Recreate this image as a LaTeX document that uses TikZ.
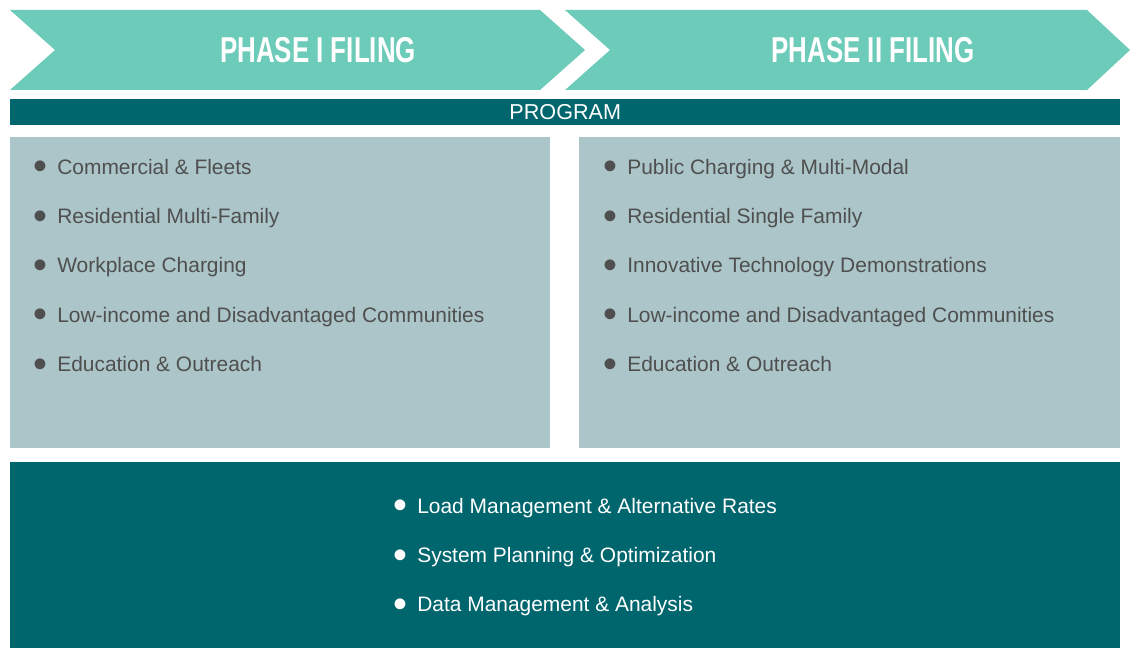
\documentclass[tikz,border=0pt]{standalone}
\usepackage{fontspec}
\setmainfont{Liberation Sans}
\newfontfamily\phasefont[FakeStretch=0.72]{Liberation Sans}
\usepackage{xcolor}
\definecolor{colorArrow}{HTML}{6DCBB9}
\definecolor{colorTeal}{HTML}{00666E}
\definecolor{colorPanel}{HTML}{ABC5C8}
\definecolor{colorItem}{HTML}{4F4F4F}
\usetikzlibrary{positioning}
\newcommand{\itembullet}{\raisebox{-0.27em}{\scalebox{1.9}{\textbullet}}\hspace{7.6pt}}

\begin{document}
\begin{tikzpicture}[x=0.75pt, y=-0.75pt, every node/.style={inner sep=0pt},
  phase/.style={text=white, font=\phasefont\bfseries\fontsize{27}{27}\selectfont},
  panel/.style={fill=colorPanel, anchor=north west, minimum height=233.25pt},
  bar/.style={fill=colorTeal, anchor=north west, minimum width=832.5pt},
  item/.style={text=colorItem, font=\fontsize{15.7}{18}\selectfont, text height=10.7pt, text depth=0pt},
  itemW/.style={item, text=white}]
\useasboundingbox (0,0) rectangle (1130,648);
% phase arrows
\fill[colorArrow] (10,10) -- (540,10) -- (585,50) -- (540,90) -- (10,90) -- (55,50) -- cycle;
\fill[colorArrow] (565,10) -- (1087,10) -- (1130,50) -- (1087,90) -- (565,90) -- (610,50) -- cycle;
\node[phase] (phase1) at (318,50) {PHASE I FILING};
\node[phase] (phase2) at (873,50) {PHASE II FILING};
% program bar
\node[bar, minimum height=19.5pt] (program) at (10,99) {};
\node[text=white, font=\fontsize{16.2}{18}\selectfont] (programtext) at (program.center) {PROGRAM};
% panels
\node[panel, minimum width=405pt] (panel1) at (10,137) {};
\node[panel, minimum width=405.75pt] (panel2) at (579,137) {};
\node[bar, minimum height=139.5pt] (common) at (10,462) {};
% phase I items
\node[item, anchor=west] (a1) at (33,167) {\itembullet Commercial \& Fleets};
\node[item, below right=25.95pt and 0pt of a1.south west, anchor=north west] (a2) {\itembullet Residential Multi-Family};
\node[item, below right=25.95pt and 0pt of a2.south west, anchor=north west] (a3) {\itembullet Workplace Charging};
\node[item, below right=25.95pt and 0pt of a3.south west, anchor=north west] (a4) {\itembullet Low-income and Disadvantaged Communities};
\node[item, below right=25.95pt and 0pt of a4.south west, anchor=north west] (a5) {\itembullet Education \& Outreach};
% phase II items
\node[item, anchor=west] (b1) at (603,167) {\itembullet Public Charging \& Multi-Modal};
\node[item, below right=25.95pt and 0pt of b1.south west, anchor=north west] (b2) {\itembullet Residential Single Family};
\node[item, below right=25.95pt and 0pt of b2.south west, anchor=north west] (b3) {\itembullet Innovative Technology Demonstrations};
\node[item, below right=25.95pt and 0pt of b3.south west, anchor=north west] (b4) {\itembullet Low-income and Disadvantaged Communities};
\node[item, below right=25.95pt and 0pt of b4.south west, anchor=north west] (b5) {\itembullet Education \& Outreach};
% common items
\node[itemW, anchor=west] (c1) at (393,506) {\itembullet Load Management \& Alternative Rates};
\node[itemW, below right=25.95pt and 0pt of c1.south west, anchor=north west] (c2) {\itembullet System Planning \& Optimization};
\node[itemW, below right=25.95pt and 0pt of c2.south west, anchor=north west] (c3) {\itembullet Data Management \& Analysis};
\end{tikzpicture}
\end{document}
